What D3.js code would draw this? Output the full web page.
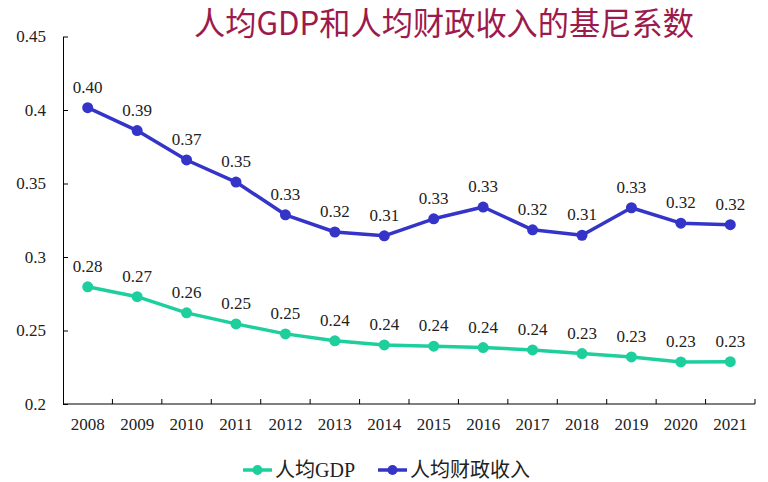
<!DOCTYPE html>
<html>
<head>
<meta charset="utf-8">
<script src="https://cdn.jsdelivr.net/npm/d3@7"></script>
<style>
  body { margin: 0; background: #fff; }
  svg text { font-family: "Liberation Serif", "Noto Sans CJK SC", serif; fill: #222; }
</style>
</head>
<body>
<div id="chart"></div>
<script>
var years = ['2008','2009','2010','2011','2012','2013','2014','2015','2016','2017','2018','2019','2020','2021'];
var gdpGini = [0.2797,0.2730,0.2620,0.2545,0.2477,0.2430,0.2402,0.2393,0.2384,0.2368,0.2343,0.2320,0.2286,0.2288];
var fiscalGini = [0.4016,0.3860,0.3660,0.3510,0.3287,0.3170,0.3144,0.3260,0.3340,0.3185,0.3148,0.3335,0.3230,0.3220];
var yTicks = [0.2,0.25,0.3,0.35,0.4,0.45];
var seriesNames = ['人均GDP','人均财政收入'];
var seriesColors = ['#1dcf9d','#3434c8'];

var w = 768, h = 482,
    plotLeft = 63, plotRight = 755, plotTop = 36.5, plotBottom = 404;

var svg = d3.select('#chart').append('svg')
    .attr('width', w)
    .attr('height', h);

var x = d3.scaleBand().domain(years).range([plotLeft, plotRight]).padding(0);
var y = d3.scaleLinear().domain([0.2, 0.45]).range([plotBottom, plotTop]);

// title
svg.append('text')
    .attr('x', 194).attr('y', 35)
    .attr('textLength', 500).attr('lengthAdjust', 'spacingAndGlyphs')
    .style('font-size', '32px')
    .style('fill', '#9c1a4c')
    .style('font-family', '"Noto Sans CJK SC", sans-serif')
    .text('人均GDP和人均财政收入的基尼系数');

// y axis
var yAxis = svg.append('g')
    .attr('transform', 'translate(' + plotLeft + ',0)')
    .call(d3.axisLeft(y).tickValues(yTicks).tickSizeInner(-5).tickSizeOuter(0).tickPadding(17)
        .tickFormat(function(d){ return String(+d.toFixed(2)); }));
yAxis.selectAll('text').style('font-size', '17px');

// x axis
var xAxis = svg.append('g')
    .attr('transform', 'translate(0,' + plotBottom + ')')
    .call(d3.axisBottom(x).tickSize(0).tickPadding(14));
xAxis.select('.domain').attr('d', 'M' + plotLeft + ',0H' + plotRight);
xAxis.selectAll('text').style('font-size', '17px');
years.forEach(function(yr){
    var bx = x(yr) + x.bandwidth();
    xAxis.append('line')
        .attr('x1', bx).attr('x2', bx)
        .attr('y1', 0).attr('y2', -5)
        .attr('stroke', '#000');
});
svg.selectAll('.domain, .tick line').attr('stroke', '#000');

// series
var line = d3.line()
    .x(function(d, i){ return x(years[i]) + x.bandwidth() / 2; })
    .y(function(d){ return y(d); });

[gdpGini, fiscalGini].forEach(function(values, s){
    var g = svg.append('g');
    g.append('path')
        .datum(values)
        .attr('d', line)
        .attr('fill', 'none')
        .attr('stroke', seriesColors[s])
        .attr('stroke-width', 3.5)
        .attr('stroke-linejoin', 'round');
    g.selectAll('circle')
        .data(values)
        .enter().append('circle')
        .attr('cx', function(d, i){ return x(years[i]) + x.bandwidth() / 2; })
        .attr('cy', function(d){ return y(d); })
        .attr('r', 5.5)
        .attr('fill', seriesColors[s]);
    g.selectAll('text')
        .data(values)
        .enter().append('text')
        .attr('x', function(d, i){ return x(years[i]) + x.bandwidth() / 2; })
        .attr('y', function(d){ return y(d) - 15; })
        .attr('text-anchor', 'middle')
        .style('font-size', '17px')
        .text(function(d){ return d.toFixed(2); });
});

// legend
var legendX = [243, 378];
seriesNames.forEach(function(name, s){
    var lg = svg.append('g').attr('transform', 'translate(' + legendX[s] + ',470)');
    lg.append('line')
        .attr('x1', 0).attr('x2', 29)
        .attr('stroke', seriesColors[s]).attr('stroke-width', 3.5);
    lg.append('circle').attr('cx', 14.5).attr('r', 5).attr('fill', seriesColors[s]);
    lg.append('text')
        .attr('x', 32).attr('y', 7)
        .style('font-size', '20px')
        .text(name);
});
</script>
</body>
</html>
